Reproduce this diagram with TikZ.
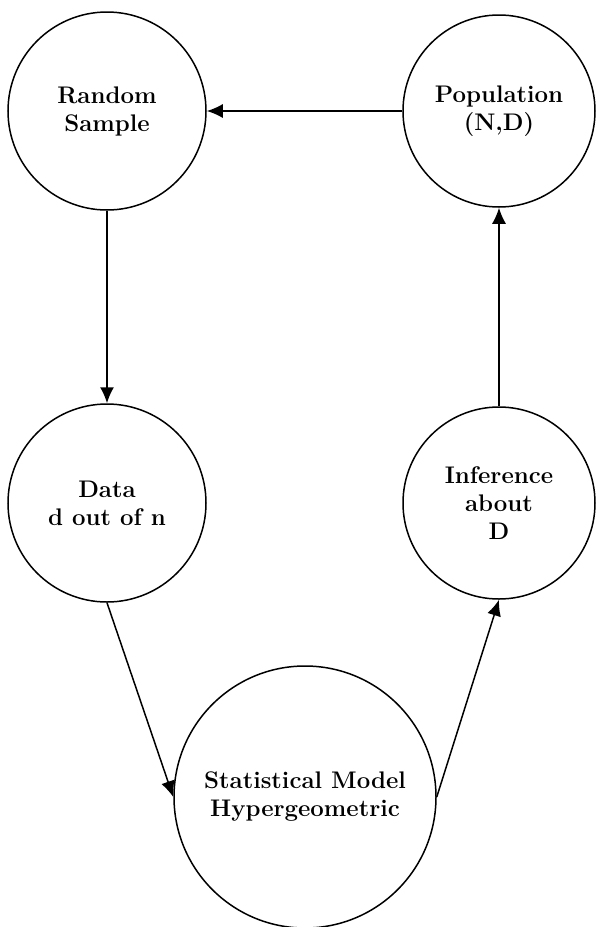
\documentclass[tikz,border=0pt]{standalone}
\usetikzlibrary{arrows.meta}
\begin{document}
\begin{tikzpicture}[x=0.5pt,y=-0.5pt,
  stage/.style={draw,circle,line width=0.75pt,inner sep=0pt,align=center,font=\bfseries\large},
  flow/.style={line width=0.75pt,-{Latex[length=8pt,width=7pt]}}]
\useasboundingbox (0,0) rectangle (596,927);
\node[stage,minimum size=99pt] (rs) at (107,111) {Random\\Sample};
\node[stage,minimum size=96pt] (pop) at (499,111) {Population\\(N,D)};
\node[stage,minimum size=99pt] (data) at (107,503) {Data\\d out of n};
\node[stage,minimum size=96pt] (inf) at (499,503) {Inference\\about\\D};
\node[stage,minimum size=131pt] (model) at (305,797) {Statistical Model\\Hypergeometric};
\draw[flow] (pop.west) -- (rs.east);
\draw[flow] (rs.south) -- (data.north);
\draw[flow] (data.south) -- (model.west);
\draw[flow] (model.east) -- (inf.south);
\draw[flow] (inf.north) -- (pop.south);
\end{tikzpicture}
\end{document}
